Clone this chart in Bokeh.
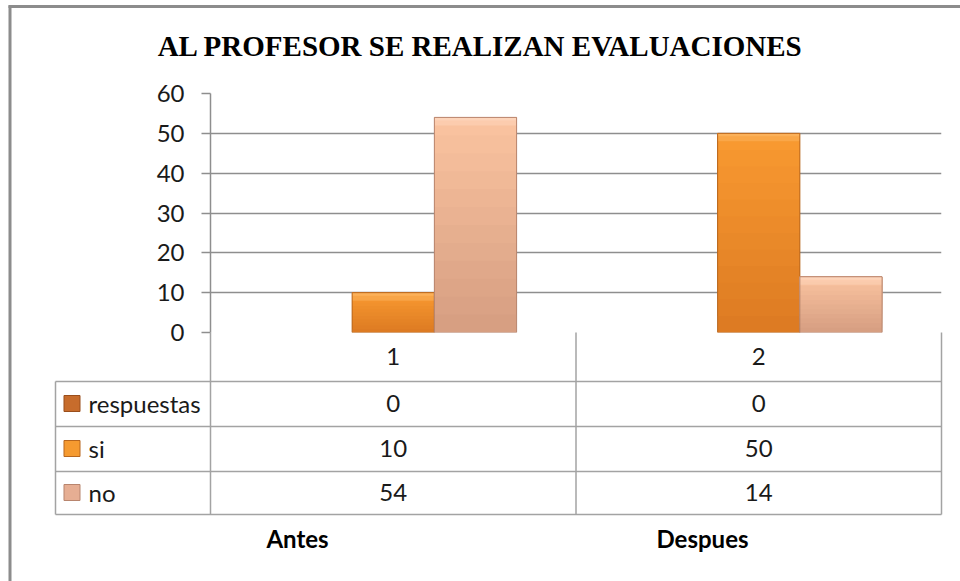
from bokeh.plotting import figure
from bokeh.models import Range1d, FactorRange, FixedTicker, ColumnDataSource
from bokeh.core.properties import value
from bokeh.transform import dodge
from bokeh.embed import file_html
from bokeh.resources import INLINE

# ---------------- data ----------------
categories = ["1", "2"]
group_labels = ["Antes", "Despues"]
series_names = ["respuestas", "si", "no"]
respuestas = [0, 0]
si = [10, 50]
no = [54, 14]
y_ticks = [0, 10, 20, 30, 40, 50, 60]
title_text = "AL PROFESOR SE REALIZAN EVALUACIONES"

# ---------------- layout (figure pixels) ----------------
W, H = 960, 581
FL, FR, FT, FB = 210, 941, 93, 332          # plot frame edges
ROW_LINES = [381, 426, 471, 514]            # table horizontal lines
ROW_CENTERS = [403, 448, 492]               # table row centers
CAT_ROW_Y = 356                             # "1" / "2" row
TABLE_LEFT = 55
KEY_X, KEY_SIZE, NAME_X = 71.5, 16, 88
GROUP_X, GROUP_Y = [297, 702], 538
TITLE_X, TITLE_Y = 480, 45
BORDER_X, BORDER_Y = 9.5, 6
BAR_W = 0.225
OFFSETS = [-BAR_W, 0.0, BAR_W]
CAT_PX = (FR - FL) / len(categories)        # pixels per category
Y_PX = (FB - FT) / (y_ticks[-1] - y_ticks[0])
BEVEL1 = 3 / Y_PX                           # top bevel bands in data units
BEVEL2 = 8 / Y_PX


def fx(x_pixel):
    """figure pixel -> synthetic categorical coordinate"""
    return (x_pixel - FL) / CAT_PX


FONT = value("Lato")
FS = "24px"
GRID = "#8e8e8e"
TABLE_LINE = "#a3a3a3"

fills_top = {"respuestas": "#d07432", "si": "#f99a31", "no": "#fbc4a0"}
fills_bot = {"respuestas": "#a95520", "si": "#dc7a22", "no": "#d59d81"}
bevel_col = {"respuestas": "#e08a4a", "si": "#fdb865", "no": "#fed9c1"}
outline = {"respuestas": None, "si": "#b7661e", "no": "#b8856e"}
key_fill = {"respuestas": "#c76c2c", "si": "#f59a30", "no": "#e6ae93"}
key_line = {"respuestas": "#9a4e1c", "si": "#b7661e", "no": "#b8856e"}

p = figure(width=W, height=H,
           x_range=FactorRange(factors=categories, range_padding=0),
           y_range=Range1d(y_ticks[0], y_ticks[-1]),
           x_axis_location=None,
           output_backend="svg", toolbar_location=None,
           min_border_left=FL, min_border_right=W - FR,
           min_border_top=FT, min_border_bottom=H - FB)
p.extra_y_ranges = {"px": Range1d(FB, FT)}
p.outline_line_color = None
p.background_fill_color = "white"
p.border_fill_color = "white"

# y axis + grid
p.yaxis.ticker = FixedTicker(ticks=y_ticks)
p.ygrid.ticker = FixedTicker(ticks=y_ticks)
p.ygrid.grid_line_color = GRID
p.ygrid.grid_line_width = 1.5
p.xgrid.visible = False
p.yaxis.axis_line_color = GRID
p.yaxis.axis_line_width = 1.5
p.yaxis.major_tick_line_color = GRID
p.yaxis.major_tick_line_width = 1.5
p.yaxis.major_tick_out = 9
p.yaxis.major_tick_in = 0
p.yaxis.minor_tick_line_color = None
p.yaxis.major_label_text_font = "Lato"
p.yaxis.major_label_text_font_size = FS
p.yaxis.major_label_text_color = "#1a1a1a"
p.yaxis.major_label_standoff = 17


def mix(c1, c2, t):
    a = [int(c1[i:i + 2], 16) for i in (1, 3, 5)]
    b = [int(c2[i:i + 2], 16) for i in (1, 3, 5)]
    return "#%02x%02x%02x" % tuple(round(a[k] + (b[k] - a[k]) * t) for k in range(3))


data = {"cat": categories, "respuestas": respuestas, "si": si, "no": no}
NB = 12
for s in series_names:
    for k in range(NB):
        data[f"{s}_b{k}"] = [v * k / NB for v in data[s]]
    data[f"{s}_bev1"] = [max(v - BEVEL1, 0) for v in data[s]]
    data[f"{s}_bev2"] = [max(v - BEVEL2, 0) for v in data[s]]
src = ColumnDataSource(data)

for s, off in zip(series_names, OFFSETS):
    xx = dodge("cat", off, range=p.x_range)
    # vertical gradient: overlapping bands, each from its base up to the bar top
    for k in range(NB):
        p.vbar(x=xx, bottom=f"{s}_b{k}", top=s, width=BAR_W, source=src,
               fill_color=mix(fills_bot[s], fills_top[s], (k + 0.5) / NB), line_color=None)
    # soft top bevel highlight
    p.vbar(x=xx, bottom=f"{s}_bev2", top=s, width=BAR_W, source=src,
           fill_color=bevel_col[s], fill_alpha=0.45, line_color=None)
    p.vbar(x=xx, bottom=f"{s}_bev1", top=s, width=BAR_W, source=src,
           fill_color=bevel_col[s], fill_alpha=0.6, line_color=None)
    p.vbar(x=xx, top=s, width=BAR_W, source=src, fill_color=None,
           line_color=outline[s], line_width=1)

# ---------------- data table ----------------
ypx = dict(y_range_name="px", level="overlay")

# horizontal table lines
p.segment(x0=[fx(TABLE_LEFT)] * len(ROW_LINES), x1=[fx(FR)] * len(ROW_LINES),
          y0=ROW_LINES, y1=ROW_LINES, line_color=TABLE_LINE, line_width=1.5, **ypx)
# left vertical of legend column
p.segment(x0=[fx(TABLE_LEFT)], x1=[fx(TABLE_LEFT)], y0=[ROW_LINES[0]], y1=[ROW_LINES[-1]],
          line_color=TABLE_LINE, line_width=1.5, **ypx)
# category boundaries
bounds = list(range(len(categories) + 1))
p.segment(x0=bounds, x1=bounds, y0=[FB] * len(bounds), y1=[ROW_LINES[-1]] * len(bounds),
          line_color=TABLE_LINE, line_width=1.5, **ypx)

# category labels
p.text(x=categories, y=[CAT_ROW_Y] * len(categories), text=categories,
       text_font=FONT, text_font_size=FS, text_color="#1a1a1a",
       text_align="center", text_baseline="middle", **ypx)

# values
for s, yc in zip(series_names, ROW_CENTERS):
    vals = data[s]
    p.text(x=categories, y=[yc] * len(categories), text=[str(v) for v in vals],
           text_font=FONT, text_font_size=FS, text_color="#1a1a1a",
           text_align="center", text_baseline="middle", **ypx)

# legend keys + names
p.rect(x=[fx(KEY_X)] * 3, y=ROW_CENTERS, width=KEY_SIZE / CAT_PX, height=KEY_SIZE,
       fill_color=[key_fill[s] for s in series_names],
       line_color=[key_line[s] for s in series_names], line_width=1, **ypx)
p.text(x=[fx(NAME_X)] * 3, y=ROW_CENTERS, text=series_names,
       text_font=FONT, text_font_size=FS, text_color="#1a1a1a",
       text_align="left", text_baseline="middle", **ypx)

# group labels
p.text(x=[fx(v) for v in GROUP_X], y=[GROUP_Y] * len(group_labels), text=group_labels,
       text_font=FONT, text_font_size=FS, text_font_style="bold",
       text_color="#000000", text_align="center", text_baseline="middle", **ypx)

# title
p.text(x=[fx(TITLE_X)], y=[TITLE_Y], text=[title_text],
       text_font=value("Liberation Serif"), text_font_size="29px",
       text_font_style="bold", text_color="#000000",
       text_align="center", text_baseline="middle", **ypx)

# outer chart border (left & top)
p.segment(x0=[fx(BORDER_X), fx(BORDER_X - 1.5)], x1=[fx(BORDER_X), fx(W)],
          y0=[BORDER_Y - 1, BORDER_Y], y1=[H, BORDER_Y],
          line_color="#8c8c8c", line_width=3, **ypx)

open("out.html", "w").write(file_html(p, INLINE))
